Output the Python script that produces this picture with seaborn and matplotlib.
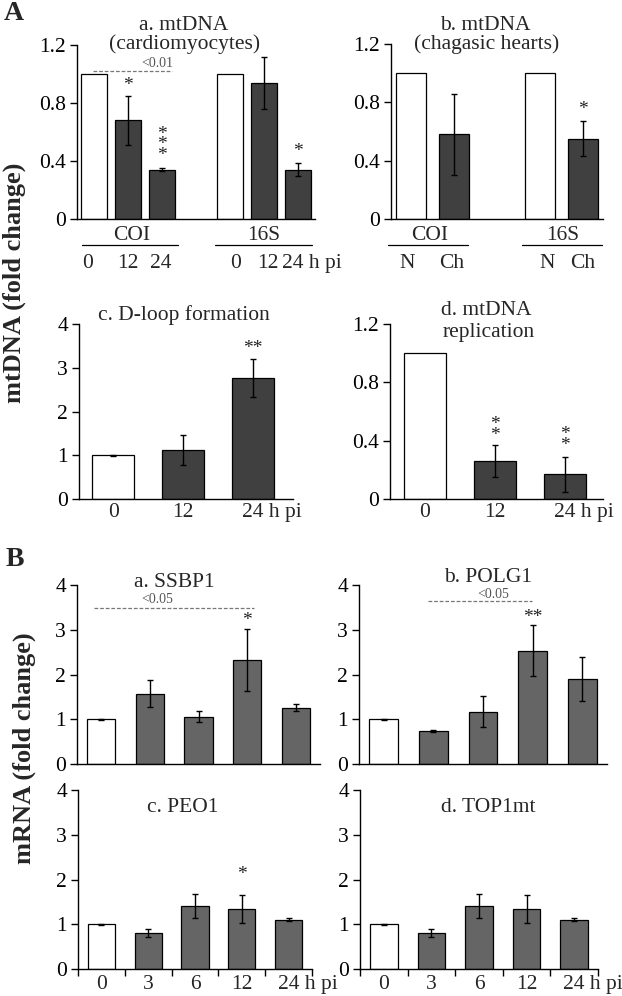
import matplotlib
matplotlib.use("Agg")
import matplotlib.pyplot as plt
import seaborn as sns

# ---- data ----
# A-a: mtDNA in cardiomyocytes, COI and 16S at 0/12/24 h pi
aa_cats = ['COI 0', 'COI 12', 'COI 24', '16S 0', '16S 12', '16S 24']
aa_vals = [1.0, 0.68, 0.34, 1.0, 0.94, 0.34]
aa_err = [0, 0.17, 0.01, 0, 0.18, 0.045]

# A-b: mtDNA in chagasic hearts, normal (N) vs chagasic (Ch)
ab_cats = ['COI N', 'COI Ch', '16S N', '16S Ch']
ab_vals = [1.0, 0.58, 1.0, 0.55]
ab_err = [0, 0.28, 0, 0.12]

# A-c / A-d: 0, 12, 24 h pi
a_hours = ['0', '12', '24']
dloop_vals = [1.0, 1.12, 2.77]
dloop_err = [0.01, 0.34, 0.43]
repl_vals = [1.0, 0.26, 0.17]
repl_err = [0, 0.11, 0.12]

# B: mRNA at 0, 3, 6, 12, 24 h pi
b_hours = ['0', '3', '6', '12', '24']
ssbp1_vals = [1.0, 1.57, 1.06, 2.33, 1.26]
ssbp1_err = [0.01, 0.30, 0.12, 0.69, 0.07]
polg1_vals = [1.0, 0.74, 1.17, 2.53, 1.90]
polg1_err = [0.01, 0.03, 0.34, 0.57, 0.50]
peo1_vals = [1.0, 0.81, 1.41, 1.34, 1.10]
peo1_err = [0.01, 0.085, 0.27, 0.31, 0.035]
top1mt_vals = [1.0, 0.81, 1.41, 1.34, 1.10]
top1mt_err = [0.01, 0.085, 0.27, 0.31, 0.035]

DARK = '#404040'
MID = '#656565'
W, H = 622, 996
FS = 15.5

sns.set_style("ticks")
plt.rcParams['font.family'] = ['Liberation Serif', 'DejaVu Serif']

fig = plt.figure(figsize=(W / 100, H / 100), dpi=100)


def fx(px):
    return px / W


def fy(py):
    return 1 - py / H


def make_ax(left, right, top, bottom):
    return fig.add_axes([fx(left), fy(bottom), (right - left) / W, (bottom - top) / H])


def bars(ax, order, cats, vals, errs, fill, width, ylim, yticks, ylabels, white):
    colors = {c: ('white' if c in white else fill) for c in cats}
    sns.barplot(x=cats, y=vals, hue=cats, order=order, hue_order=cats, palette=colors,
                legend=False, dodge=False, width=width, saturation=1,
                edgecolor='black', linewidth=0.9, ax=ax)
    keep = [i for i, e in enumerate(errs) if e > 0]
    pos = [order.index(cats[i]) for i in keep]
    ax.errorbar(pos, [vals[i] for i in keep], yerr=[errs[i] for i in keep], fmt='none',
                ecolor='black', elinewidth=1, capsize=2, capthick=1)
    ax.set_ylim(*ylim)
    ax.set_yticks(yticks, labels=ylabels)
    ax.set_xlabel('')
    ax.set_ylabel('')
    for s in ['top', 'right']:
        ax.spines[s].set_visible(False)
    for s in ['left', 'bottom']:
        ax.spines[s].set_color('black')
        ax.spines[s].set_linewidth(1)
    ax.tick_params(axis='y', direction='out', length=5, width=1, labelsize=FS, pad=3, colors='black')
    ax.set_facecolor('none')


def stars(ax, x, y, text, vertical=False, size=14):
    if vertical:
        text = '\n'.join(text)
    ax.text(x, y, text, ha='center', va='bottom', fontsize=size,
            linespacing=0.5 if vertical else 1.0, color='#222222')


def sig_line(ax, x0, x1, y, label, lx, ly):
    ax.plot([x0, x1], [y, y], ls=(0, (3, 1.5)), color='#777777', lw=0.9, clip_on=False)
    ax.text(lx, ly, label, ha='center', va='baseline', fontsize=10, color='#555555')


def hpi(ax, x, pad):
    ax.annotate('24 h pi', xy=(x, 0), xycoords=('data', 'axes fraction'),
                xytext=(-FS / 2, -pad), textcoords='offset points',
                ha='left', va='top', fontsize=FS, annotation_clip=False)


# ---------- A-a ----------
ax = make_ax(77, 315, 45, 219)
order = ['COI 0', 'COI 12', 'COI 24', 'gap', '16S 0', '16S 12', '16S 24']
bars(ax, order, aa_cats, aa_vals, aa_err, DARK, 0.76, (0, 1.2),
     [0, 0.4, 0.8, 1.2], ['0', '0.4', '0.8', '1.2'], ['COI 0', '16S 0'])
ax.set_xlim(-0.5, 6.5)
ax.set_xticks([])
sig_line(ax, -0.03, 2.3, 1.02, '<0.01', 1.85, 1.05)
stars(ax, 1, 0.86, '*')
stars(ax, 2, 0.38, '***', vertical=True)
stars(ax, 6, 0.41, '*')
tr = ax.get_xaxis_transform()
for lab, x0, x1, xc in [('COI', -0.35, 2.47, 1.1), ('16S', 3.56, 6.41, 5.0)]:
    ax.text(xc, -0.04, lab, transform=tr, ha='center', va='top', fontsize=FS)
    ax.plot([x0, x1], [-0.15, -0.15], transform=tr, color='black', lw=0.9, clip_on=False)
for lab, x in zip(['0', '12', '24', '0', '12'], [-0.2, 1.0, 1.95, 4.15, 5.1]):
    ax.text(x, -0.2, lab, transform=tr, ha='center', va='top', fontsize=FS)
ax.text(5.85 - 0.32, -0.2, '24 h pi', transform=tr, ha='left', va='top', fontsize=FS)

# ---------- A-b ----------
ax = make_ax(391, 603, 44, 219)
order = ['COI N', 'COI Ch', 'gap', '16S N', '16S Ch']
bars(ax, order, ab_cats, ab_vals, ab_err, DARK, 0.7, (0, 1.2),
     [0, 0.4, 0.8, 1.2], ['0', '0.4', '0.8', '1.2'], ['COI N', '16S N'])
ax.set_xlim(-0.47, 4.47)
ax.set_xticks([])
stars(ax, 4, 0.69, '*')
tr = ax.get_xaxis_transform()
for lab, x0, x1, xc in [('COI', -0.53, 1.33, 0.44), ('16S', 2.58, 4.44, 3.53)]:
    ax.text(xc, -0.04, lab, transform=tr, ha='center', va='top', fontsize=FS)
    ax.plot([x0, x1], [-0.15, -0.15], transform=tr, color='black', lw=0.9, clip_on=False)
for lab, x in zip(['N', 'Ch', 'N', 'Ch'], [-0.1, 0.95, 3.16, 4.0]):
    ax.text(x, -0.2, lab, transform=tr, ha='center', va='top', fontsize=FS)

# ---------- A-c ----------
ax = make_ax(79, 293, 324, 499)
bars(ax, a_hours, a_hours, dloop_vals, dloop_err, DARK, 0.6, (0, 4),
     [0, 1, 2, 3, 4], ['0', '1', '2', '3', '4'], ['0'])
ax.set_xlim(-0.49, 2.57)
ax.set_xticks([0, 1, 2], labels=['0', '12', ''])
ax.tick_params(axis='x', length=0, labelsize=FS, pad=3)
hpi(ax, 2, 3)
stars(ax, 2, 3.25, '**')

# ---------- A-d ----------
ax = make_ax(390, 603, 324, 499)
bars(ax, a_hours, a_hours, repl_vals, repl_err, DARK, 0.6, (0, 1.2),
     [0, 0.4, 0.8, 1.2], ['0', '0.4', '0.8', '1.2'], ['0'])
ax.set_xlim(-0.5, 2.54)
ax.set_xticks([0, 1, 2], labels=['0', '12', ''])
ax.tick_params(axis='x', length=0, labelsize=FS, pad=3)
hpi(ax, 2, 3)
stars(ax, 1, 0.38, '**', vertical=True)
stars(ax, 2, 0.31, '**', vertical=True)

# ---------- B panels ----------
b_panels = [
    (77, 320, 585, 764, ssbp1_vals, ssbp1_err, False),
    (359, 607, 585, 764, polg1_vals, polg1_err, False),
    (78, 312, 790, 969, peo1_vals, peo1_err, True),
    (360, 598, 790, 969, top1mt_vals, top1mt_err, True),
]
b_axes = []
for left, right, top, bottom, vals, errs, bottom_row in b_panels:
    ax = make_ax(left, right, top, bottom)
    bars(ax, b_hours, b_hours, vals, errs, MID, 0.58, (0, 4),
         [0, 1, 2, 3, 4], ['0', '1', '2', '3', '4'], ['0'])
    ax.set_xlim(-0.5, 4.5)
    if bottom_row:
        ax.set_xticks([-0.5, 0.5, 1.5, 2.5, 3.5, 4.5], labels=[''] * 6)
        ax.set_xticks(range(5), labels=['0', '3', '6', '12', ''], minor=True)
        ax.tick_params(axis='x', which='major', direction='out', length=5, width=1, colors='black')
        ax.tick_params(axis='x', which='minor', length=0, labelsize=FS, pad=4)
        hpi(ax, 4, 4)
    else:
        ax.set_xticks([])
    b_axes.append(ax)

sig_line(b_axes[0], -0.14, 3.15, 3.49, '<0.05', 1.15, 3.6)
stars(b_axes[0], 3, 3.02, '*')
sig_line(b_axes[1], 0.89, 2.98, 3.65, '<0.05', 2.2, 3.72)
stars(b_axes[1], 3, 3.08, '**')
stars(b_axes[2], 3, 1.92, '*')

# ---------- titles ----------
titles = [
    ('a. mtDNA', 184, 30), ('(cardiomyocytes)', 185, 49),
    ('b. mtDNA', 485, 30), ('(chagasic hearts)', 487, 49),
    ('c. D-loop formation', 184, 320),
    ('d. mtDNA', 486, 315), ('replication', 489, 337),
    ('a. SSBP1', 174, 587), ('b. POLG1', 488, 582),
    ('c. PEO1', 183, 812), ('d. TOP1mt', 488, 812),
]
for t, x, y in titles:
    fig.text(fx(x), fy(y), t, ha='center', va='baseline', fontsize=FS)

fig.text(fx(14), fy(14), 'A', ha='center', va='center', fontsize=20, fontweight='bold')
fig.text(fx(15), fy(559), 'B', ha='center', va='center', fontsize=20, fontweight='bold')
fig.text(fx(14), fy(283), 'mtDNA (fold change)', rotation=90, ha='center', va='center',
         fontsize=19, fontweight='bold')
fig.text(fx(24), fy(748), 'mRNA (fold change)', rotation=90, ha='center', va='center',
         fontsize=19, fontweight='bold')

fig.savefig('out.png', dpi=100)
